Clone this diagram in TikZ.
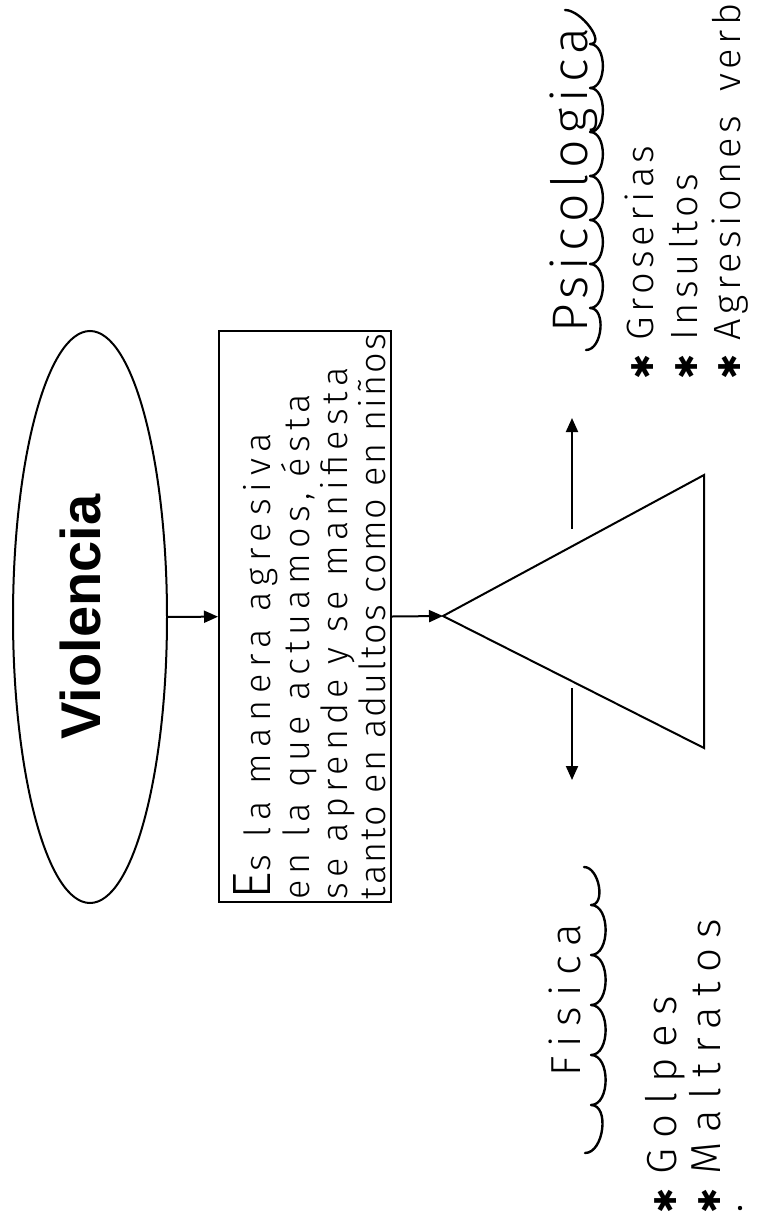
\documentclass[tikz,border=0pt]{standalone}
\usepackage{fontspec}
\usepackage{graphicx}
\usepackage{tikz}
\usetikzlibrary{shapes.geometric,arrows.meta}
\setmainfont{Liberation Sans}
\newfontfamily\handfont{Fira Sans Light}[LetterSpace=12]
\newfontfamily\handbox{Fira Sans Light}[LetterSpace=6]
\newfontfamily\handwide{Fira Sans Light}[LetterSpace=24]
\newfontfamily\symfont{DejaVu Sans}
\definecolor{ink}{HTML}{000000}
\definecolor{paper}{HTML}{FFFFFF}
\newcommand{\bul}{{\symfont\fontsize{15}{15}\selectfont ✱}\hspace{7pt}}
\newcommand{\spread}[1]{\addfontfeatures{LetterSpace=#1}}
\tikzset{
  base/.style={draw=ink, line width=1pt},
  arr/.style={draw=ink, line width=1pt, -{Triangle[length=7pt,width=6pt]}},
  squig/.style={draw=ink, line width=1.2pt, line cap=round, line join=round},
  oval/.style={base, ellipse, inner sep=0pt, minimum width=77pt, minimum height=286pt},
  defbox/.style={base, rectangle, inner sep=0pt, minimum width=86pt, minimum height=285.5pt},
  hand/.style={text=ink, inner sep=0pt, rotate=90, anchor=base west, font=\handfont\fontsize{19}{19}\selectfont},
  handl/.style={hand, font=\handwide\fontsize{21}{21}\selectfont},
}

\begin{document}
\begin{tikzpicture}[x=0.5pt, y=-0.5pt]
  \fill[paper] (0,0) rectangle (770,1226);
  \useasboundingbox (0,0) rectangle (770,1226);
  % title and definition
  \node[oval] (viol) at (90,617) {\makebox[0pt]{\rotatebox{90}{\fontsize{28}{28}\selectfont\bfseries Violencia}\hspace{10pt}}};
  \node[defbox] (defin) at (305,616.5) {\makebox[0pt]{\hspace{10pt}\rotatebox{90}{\handbox\fontsize{18}{18.5}\selectfont
    \begin{tabular}{@{}l@{}}
      \spread{19}{\fontsize{27}{18.5}\selectfont E}s la manera agresiva\\
      \spread{15}en la que actuamos, ésta\\
      \spread{14}se aprende y se manifiesta\\
      \spread{6}tanto en adultos como en niños
    \end{tabular}}}};
  \draw[arr] (viol) -- (defin);
  % triangle
  \coordinate (tip) at (443,616);
  \coordinate (top) at (704,475);
  \coordinate (bot) at (704,748);
  \draw[base] (tip) -- (top) -- (bot) -- cycle;
  \draw[arr] (defin.east) -- (tip);
  \coordinate (upS) at (572,529);
  \coordinate (upE) at (572,418);
  \coordinate (dnS) at (572,688);
  \coordinate (dnE) at (572,780);
  \draw[arr] (upS) -- (upE);
  \draw[arr] (dnS) -- (dnE);
  % Psicologica
  \node[hand, font=\handfont\fontsize{25}{25}\selectfont] (psic) at (587,333) {Psicologica};
  \draw[squig] (565,10) to[out=0,in=0] (590,44)
    \foreach \k in {1,...,6} { to[out=0,in=0] ++(0,44) }
    to[out=0,in=0] (586,350);
  \node[hand] (gros) at (653,380) {\bul Groserias};
  \node[hand] (insu) at (697,380) {\bul Insultos};
  \node[hand] (agre) at (740,380) {\bul Agresiones\hspace{12pt}verbales};
  % Fisica
  \node[handl] (fisi) at (580,1077) {Fisica};
  \draw[squig] (584,867) to[out=0,in=0] (591,905)
    \foreach \k in {1,...,4} { to[out=0,in=0] ++(0,50) }
    to[out=0,in=0] (585,1153);
  \node[handl] (golp) at (676,1214) {\bul Golpes};
  \node[handl] (malt) at (720,1214) {\bul Maltratos};
  \fill[ink] (740,1208) circle[radius=1.1pt];
\end{tikzpicture}
\end{document}
